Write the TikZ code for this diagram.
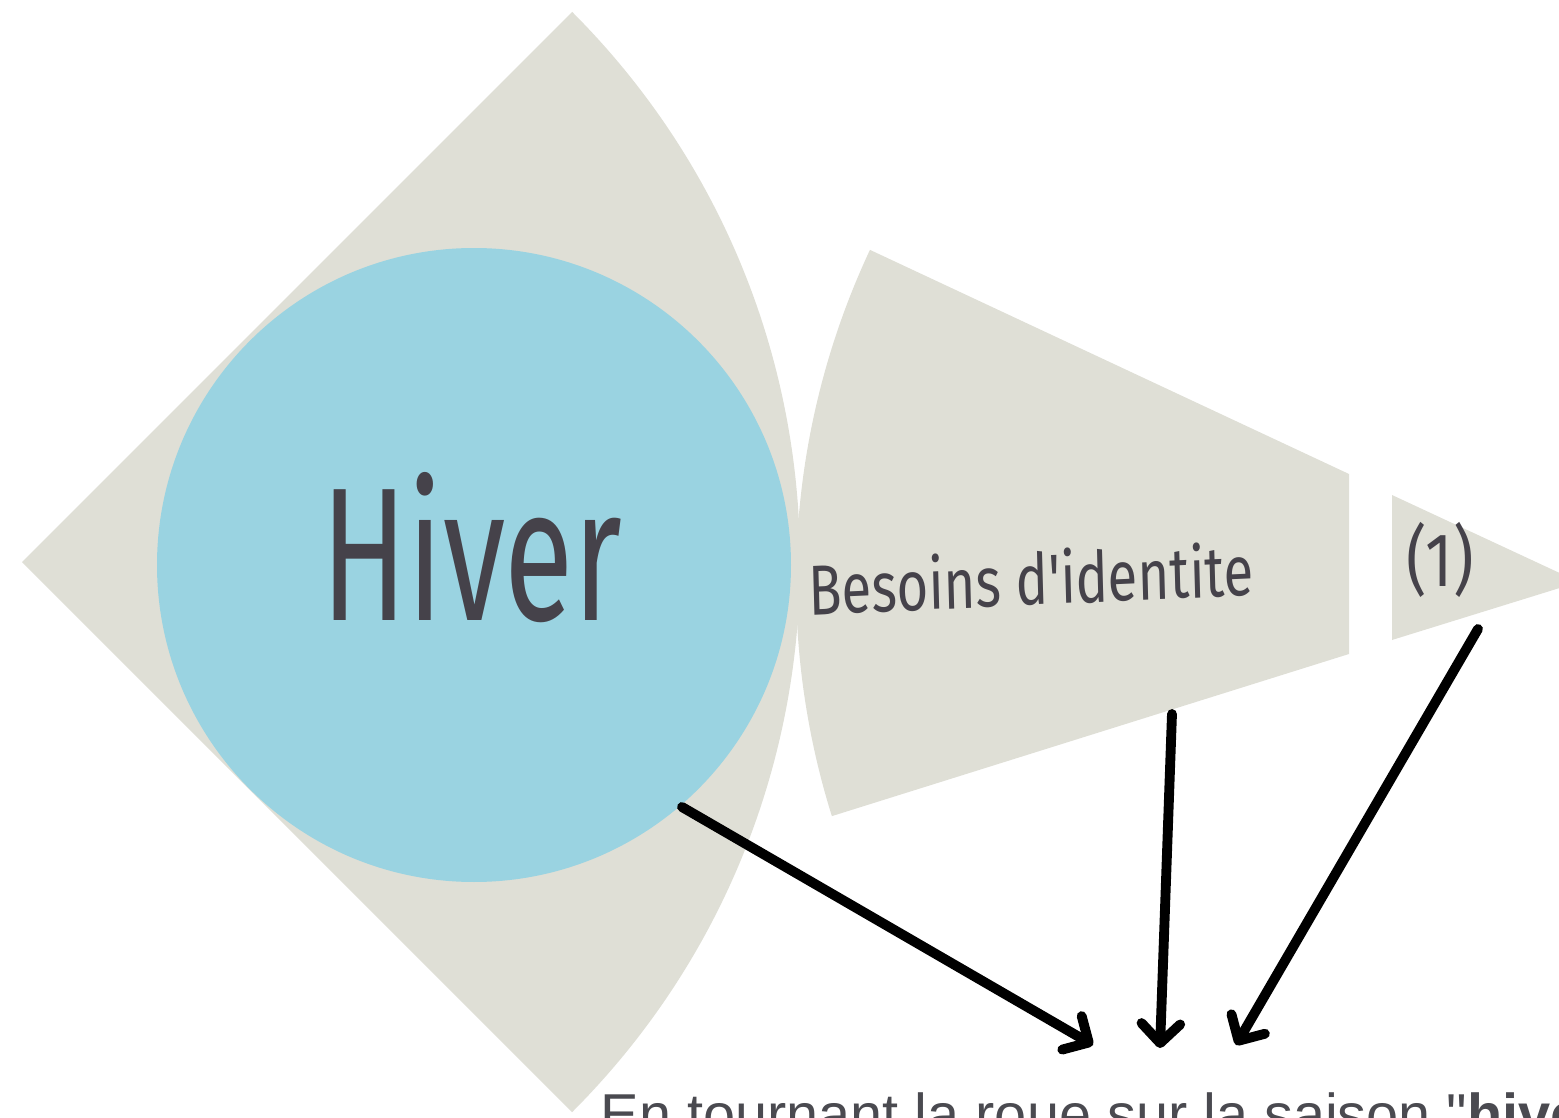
\documentclass[tikz,border=0pt]{standalone}
\usepackage{fontspec}
\setmainfont{Liberation Sans}[Ligatures=TeXOff]
\newfontfamily\handfont{Fira Sans}
\usetikzlibrary{arrows.meta}
\definecolor{sectgray}{HTML}{DFDFD6}
\definecolor{hiverblue}{HTML}{9AD3E1}
\definecolor{inkgray}{HTML}{45424A}
\definecolor{textgray}{HTML}{4A4A50}
\tikzset{
  sector/.style={fill=sectgray},
  handtext/.style={text=inkgray, inner sep=0pt, font=\handfont},
  arrowline/.style={line width=2.8pt, line cap=round, draw=black,
    -{Straight Barb[length=5.5pt,width=11pt,round]}},
}
\begin{document}
\begin{tikzpicture}[x=0.01cm,y=-0.01cm]
\useasboundingbox (0,0) rectangle (1559,1118);
\clip (0,0) rectangle (1559,1118);
% big left sector
\fill[sector] (22,562) -- ++(-45:778) arc[start angle=-45,end angle=45,radius=778] -- cycle;
% middle sector
\fill[sector] ([shift={(162.6:783)}]1579,582) arc[start angle=162.6,end angle=205.1,radius=783]
  -- (1349,474) -- (1349,654) -- cycle;
% right small sector
\fill[sector] (1392,495) -- (1579,582) -- (1392,640) -- cycle;
% blue circle
\fill[hiverblue] (474,565) circle[radius=317];
% texts
\node[handtext, font=\handfont\fontsize{36}{36}\selectfont, yscale=1.5] (hiver) at (472,548) {Hiver};
\node[handtext, font=\handfont\fontsize{15.5}{15.5}\selectfont, yscale=1.3, rotate=2] (besoins) at (1031,578) {Besoins d'identite};
\node[handtext, font=\handfont\fontsize{18}{18}\selectfont, yscale=1.2] (one) at (1440,560) {(1)};
\node[anchor=base west, inner sep=0pt, text=textgray, font=\fontsize{16.4}{16.4}\selectfont] (caption) at (600,1134) {En tournant la roue sur la saison "\textbf{hiver}"};
% arrows
\coordinate (a1s) at (682,807);
\coordinate (a1e) at (1093,1045);
\coordinate (a2s) at (1172,714);
\coordinate (a2e) at (1160,1048);
\coordinate (a3s) at (1478,629);
\coordinate (a3e) at (1236,1045);
\draw[arrowline] (a1s) -- (a1e);
\draw[arrowline] (a2s) -- (a2e);
\draw[arrowline] (a3s) -- (a3e);
\end{tikzpicture}
\end{document}
